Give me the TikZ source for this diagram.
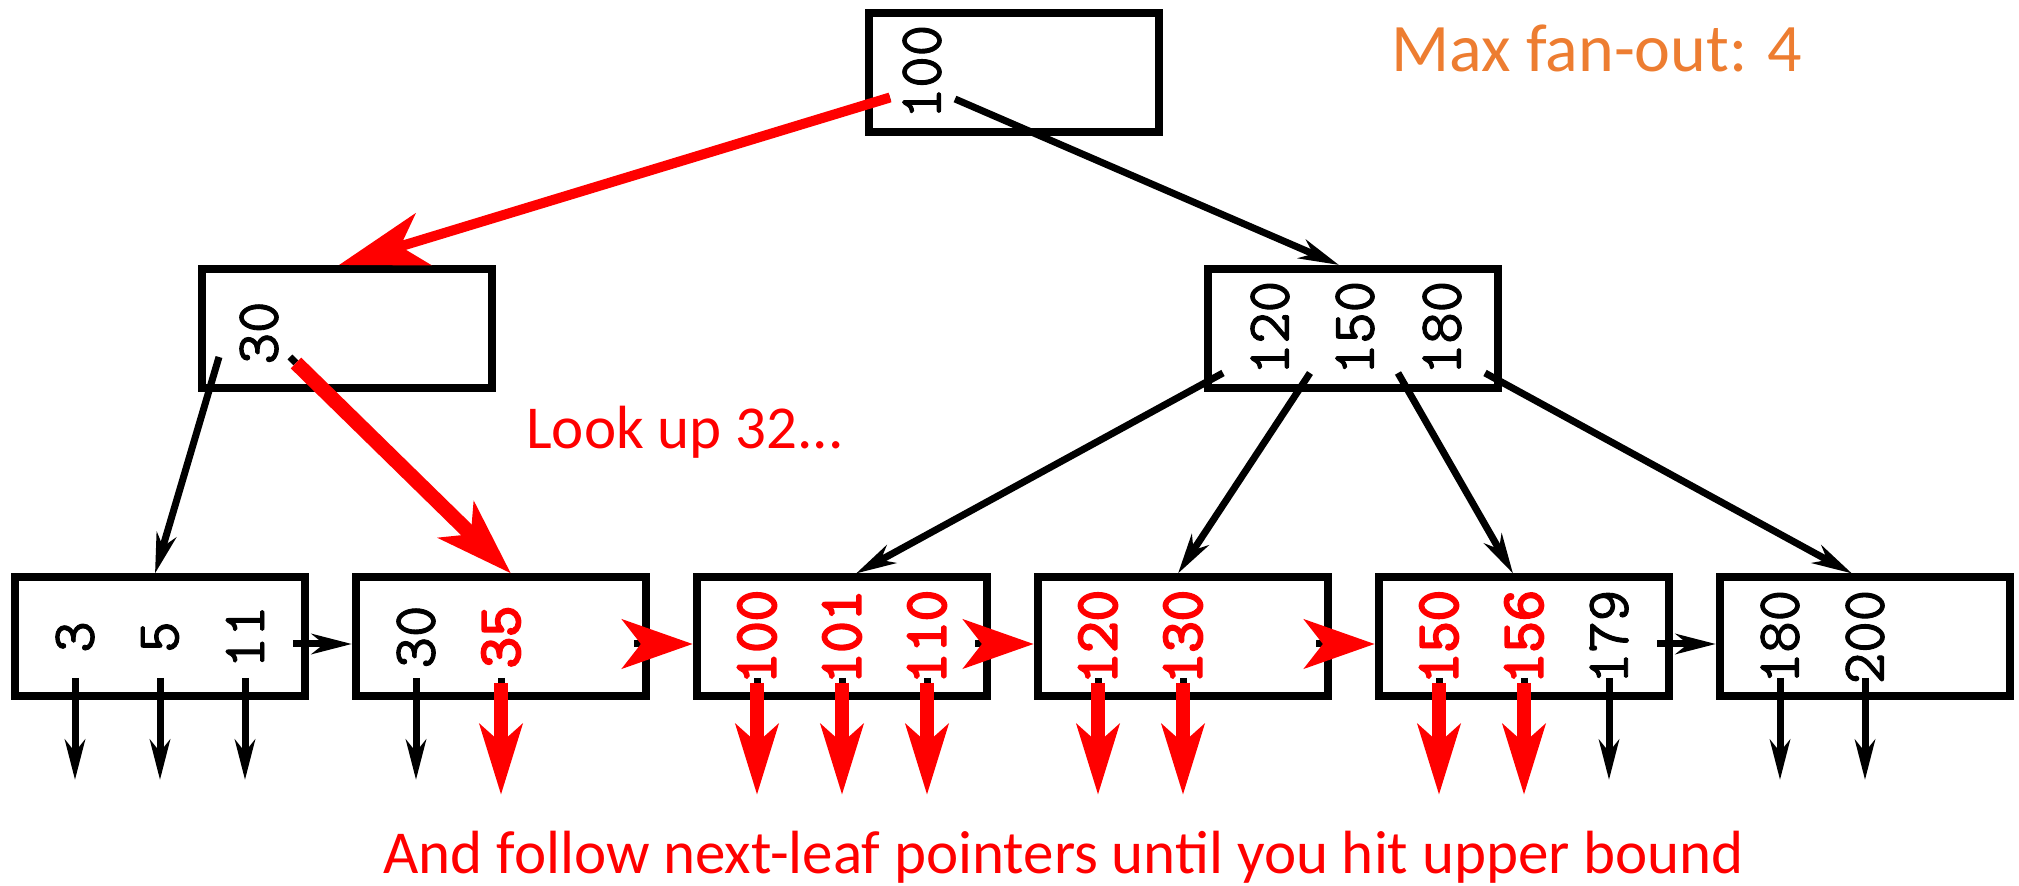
\documentclass[tikz,border=0pt]{standalone}
\usepackage{fontspec}
\setsansfont{Carlito}
\newfontfamily\keyfont[FakeBold=1.5]{Latin Modern Mono}
\newfontfamily\hotkeyfont[FakeBold=3.5]{Latin Modern Mono}
\usetikzlibrary{arrows.meta,calc}
\definecolor{fanorange}{HTML}{ED7D31}
\definecolor{hot}{HTML}{FF0000}
\begin{document}
\begin{tikzpicture}[x=0.5pt,y=-0.5pt,
  box/.style={draw,line width=4pt,minimum width=145pt,minimum height=59.5pt,inner sep=0pt},
  key/.style={rotate=90,inner sep=0pt,font=\fontsize{30.5}{30.5}\keyfont},
  hotkey/.style={rotate=90,inner sep=0pt,text=hot,font=\fontsize{30.5}{30.5}\hotkeyfont},
  ptr/.style={line width=3.5pt,-{Stealth[length=20pt,width=10pt,inset=6pt]}},
  stub/.style={line width=3.5pt},
  hotptr/.style={line width=7pt,hot,-{Stealth[length=35pt,width=21pt,inset=9pt]}},
  hotnext/.style={line width=7pt,hot,-{Stealth[length=35pt,width=24pt,inset=9pt]}},
  caption/.style={anchor=base,inner sep=0pt}]
\useasboundingbox (0,0) rectangle (2019,886);

% internal nodes
\node[box] (root) at (1013.5,73) {};
\node[box] (lint) at (347,328.5) {};
\node[box] (rint) at (1353,328.5) {};
\node[key] (k100) at (922,72) {100};
\node[key] (k30) at (259,333) {30};
\node[key] (k120) at (1270,328) {120};
\node[key] (k150) at (1355,328) {150};
\node[key] (k180) at (1442,328) {180};

% leaves
\foreach \i/\cx in {1/160,2/501,3/842,4/1183,5/1524,6/1865}{
  \node[box] (leaf\i) at (\cx,637) {};
}
\node[key] at ($(leaf1.center)+(-85,0)$) (a1) {3};
\node[key] at ($(leaf1.center)+(0,0)$) (a2) {5};
\node[key] at ($(leaf1.center)+(85,0)$) (a3) {11};
\node[key] at ($(leaf2.center)+(-85,0)$) (b1) {30};
\node[hotkey] at ($(leaf2.center)+(0,0)$) (b2) {35};
\node[hotkey] at ($(leaf3.center)+(-85,0)$) (c1) {100};
\node[hotkey] at ($(leaf3.center)+(0,0)$) (c2) {101};
\node[hotkey] at ($(leaf3.center)+(85,0)$) (c3) {110};
\node[hotkey] at ($(leaf4.center)+(-85,0)$) (d1) {120};
\node[hotkey] at ($(leaf4.center)+(0,0)$) (d2) {130};
\node[hotkey] at ($(leaf5.center)+(-85,0)$) (e1) {150};
\node[hotkey] at ($(leaf5.center)+(0,0)$) (e2) {156};
\node[key] at ($(leaf5.center)+(85,0)$) (e3) {179};
\node[key] at ($(leaf6.center)+(-85,0)$) (f1) {180};
\node[key] at ($(leaf6.center)+(0,0)$) (f2) {200};

% tree pointer slots
\coordinate (r0) at (882,100);
\coordinate (r0b) at (890,97.5);
\coordinate (r1) at (955,99);
\coordinate (l0) at (219,357);
\coordinate (l1) at (290,357);
\coordinate (l1b) at (296,363);
\coordinate (q0) at (1223,373);
\coordinate (q1) at (1310,373);
\coordinate (q2) at (1398,373);
\coordinate (q3) at (1485,373);

% root edges
\draw[stub] (r0) -- (r0b);
\draw[hot,line width=5pt,-{Stealth[length=44pt,width=27pt,inset=12pt]}] (r0b) -- ($(lint.north)+(-8,0)$);
\draw[ptr] (r1) -- ($(rint.north)+(-14,0)$);
% left internal edges
\draw[ptr] (l0) -- ($(leaf1.north)+(-5,0)$);
\draw[stub] (l1) -- (l1b);
\draw[hot,line width=7.5pt,-{Stealth[length=38pt,width=25pt,inset=10pt]}] (l1b) -- ($(leaf2.north)+(10,0)$);
% right internal edges
\draw[ptr] (q0) -- ($(leaf3.north)+(14,0)$);
\draw[ptr] (q1) -- ($(leaf4.north)+(-5,0)$);
\draw[ptr] (q2) -- ($(leaf5.north)+(-11,0)$);
\draw[ptr] (q3) -- ($(leaf6.north)+(-13,0)$);

% down pointers
\foreach \n in {a1,a2,a3,b1,e3,f1,f2}{
  \draw[ptr] ($(\n |- leaf1.center)+(0,41)$) coordinate (s-\n) -- ($(\n |- leaf1.center)+(0,143)$) coordinate (t-\n);
}
\foreach \n in {b2,c1,c2,c3,d1,d2,e1,e2}{
  \draw[stub] ($(\n |- leaf1.center)+(0,41)$) coordinate (s-\n) -- ($(\n |- leaf1.center)+(0,48)$) coordinate (m-\n);
  \draw[hotptr] ($(\n |- leaf1.center)+(0,46)$) -- ($(\n |- leaf1.center)+(0,158)$) coordinate (t-\n);
}

% next-leaf pointers
\draw[ptr] ($(leaf1.east)+(-16,7)$) -- ($(leaf2.west)+(0,7)$);
\draw[ptr] ($(leaf5.east)+(-16,7)$) -- ($(leaf6.west)+(0,7)$);
\foreach \i/\j in {2/3,3/4,4/5}{
  \draw[stub] ($(leaf\i.east)+(-16,7)$) -- ($(leaf\i.east)+(-7,7)$);
  \draw[hotnext] ($(leaf\i.east)+(-9,7)$) -- ($(leaf\j.west)+(0,7)$);
}

% captions
\node[caption,text=fanorange,font=\sffamily\fontsize{34}{34}\selectfont] (maxfan) at (1597,72) {Max fan-out: 4};
\node[caption,text=hot,font=\sffamily\fontsize{30.5}{30.5}\selectfont] (lookup) at (685,449) {Look up 32...};
\node[caption,text=hot,font=\sffamily\fontsize{30.5}{30.5}\selectfont] (follow) at (1064,873) {And follow next-leaf pointers until you hit upper bound};
\end{tikzpicture}
\end{document}
